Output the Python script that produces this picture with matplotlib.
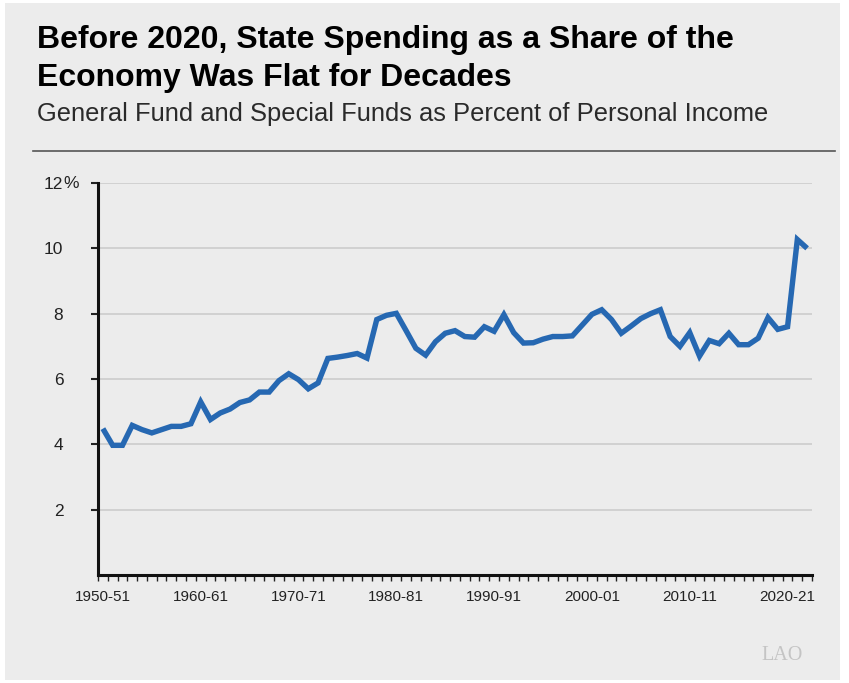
import matplotlib
matplotlib.use("Agg")
import matplotlib.pyplot as plt
from matplotlib.patches import Rectangle

# fiscal years 1950-51 .. 2022-23
start_years = list(range(1950, 2023))
fiscal_years = ["%d-%02d" % (y, (y + 1) % 100) for y in start_years]

# spending as percent of personal income
pct_income = [
    4.48, 3.97, 3.97, 4.58, 4.45, 4.35, 4.45, 4.55, 4.55, 4.63,
    5.30, 4.76, 4.96, 5.08, 5.28, 5.36, 5.60, 5.60, 5.95, 6.16,
    5.98, 5.70, 5.88, 6.63, 6.67, 6.72, 6.78, 6.64, 7.82, 7.95,
    8.01, 7.48, 6.94, 6.73, 7.14, 7.40, 7.48, 7.30, 7.28, 7.60,
    7.46, 7.97, 7.42, 7.10, 7.11, 7.22, 7.30, 7.30, 7.32, 7.65,
    7.98, 8.12, 7.82, 7.40, 7.62, 7.85, 8.00, 8.12, 7.30, 7.00,
    7.42, 6.70, 7.18, 7.08, 7.40, 7.05, 7.05, 7.25, 7.88, 7.52,
    7.60, 10.27, 10.00,
]

xtick_labels = ["1950-51", "1960-61", "1970-71", "1980-81",
                "1990-91", "2000-01", "2010-11", "2020-21"]
ytick_values = [2, 4, 6, 8, 10, 12]
ytick_labels = ["2", "4", "6", "8", "10", "12"]
ytick_suffix = "%"   # only on the top label

title_lines = ["Before 2020, State Spending as a Share of the",
               "Economy Was Flat for Decades"]
subtitle = "General Fund and Special Funds as Percent of Personal Income"

W, H = 849, 683
bg = "#ececec"
blue = "#2668b2"

plt.rcParams["font.family"] = ["Liberation Sans", "DejaVu Sans"]

fig = plt.figure(figsize=(W / 100, H / 100), dpi=100)
fig.patch.set_facecolor("white")

# grey panel behind everything
fig.patches.append(Rectangle((5 / W, 3 / H), 835 / W, 677 / H,
                             transform=fig.transFigure, facecolor=bg,
                             edgecolor="none", zorder=-10))

# title: two lines placed by baseline
for i, line in enumerate(title_lines):
    fig.text(37 / W, 1 - (48 + 38 * i) / H, line, fontsize=23,
             fontweight="bold", va="baseline", ha="left", color="black")
fig.text(37 / W, 1 - 121 / H, subtitle, fontsize=18.4, va="baseline",
         ha="left", color="#2a2a2a")
fig.add_artist(plt.Line2D([33 / W, 835 / W], [1 - 151 / H, 1 - 151 / H],
                          transform=fig.transFigure, color="#555555", lw=1.2))

ax = fig.add_axes([98 / W, 1 - 575 / H, (812 - 98) / W, (575 - 183) / H])
ax.set_facecolor(bg)

x = list(range(len(fiscal_years)))
ax.plot(x, pct_income, color=blue, lw=3.9, solid_joinstyle="miter",
        solid_capstyle="butt", zorder=3)

ax.set_xlim(-0.5, len(fiscal_years) - 0.5)
ax.set_ylim(0, 12)

ax.set_yticks(ytick_values)
ax.set_yticklabels(ytick_labels)
ax.tick_params(axis="y", length=5, width=1.5, pad=20, labelsize=12.5,
               colors="#222222")
ax.grid(axis="y", color="#cfcfcf", lw=1.3, zorder=1)
# percent sign hangs off the top label
ax.annotate(ytick_suffix, xy=(0, ytick_values[-1]),
            xycoords=("axes fraction", "data"), xytext=(-35, 0),
            textcoords="offset pixels", ha="left", va="center",
            fontsize=12.5, color="#222222")

tick_pos = [fiscal_years.index(lbl) for lbl in xtick_labels]
ax.set_xticks(tick_pos)
ax.set_xticklabels(xtick_labels)
ax.tick_params(axis="x", length=0, pad=11, labelsize=11, colors="#222222")
ax.set_xticks([i - 0.5 for i in range(len(fiscal_years) + 1)], minor=True)
ax.tick_params(axis="x", which="minor", length=4, width=1, color="#222222")

for side in ["top", "right"]:
    ax.spines[side].set_visible(False)
for side in ["left", "bottom"]:
    ax.spines[side].set_linewidth(2.2)
    ax.spines[side].set_color("#111111")

fig.text(761 / W, 1 - 655 / H, "LAO", fontsize=14.5, family="Liberation Serif",
         color="#c4c4c4", va="center", ha="left")

fig.savefig("out.png", dpi=100, facecolor=fig.get_facecolor())
